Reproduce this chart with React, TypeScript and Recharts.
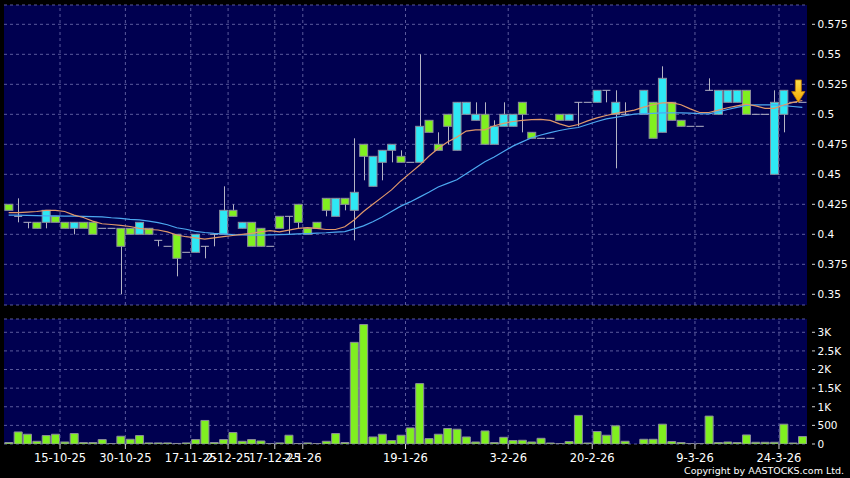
import React from 'react';
import {
  ComposedChart, Bar, Line, XAxis, YAxis, CartesianGrid, ReferenceLine, ReferenceDot,
} from 'recharts';

// daily candles, oldest first (null = no trade that day)
const OPEN = [
  0.425, 0.415, 0.41, 0.41, 0.41, 0.415, 0.41, 0.405, 0.41, 0.41,
  0.405, 0.405, 0.405, 0.405, 0.40, 0.405, 0.395, 0.39, 0.40, 0.385,
  0.385, 0.39, 0.40, 0.40, 0.42, 0.405, 0.41, 0.405, 0.39, 0.415,
  0.415, 0.425, 0.405, 0.41, 0.43, 0.415, 0.43, 0.42, 0.475, 0.44,
  0.46, 0.47, 0.465, 0.46, 0.46, 0.495, 0.475, 0.50, 0.47, 0.50,
  0.495, 0.50, 0.475, 0.49, 0.49, 0.51, 0.485, 0.48, 0.48, 0.50,
  0.495, 0.51, 0.51, 0.51, 0.52, 0.50, 0.50, null, 0.50, 0.51,
  0.485, 0.51, 0.495, 0.49, 0.49, 0.52, 0.50, 0.51, 0.51, 0.52,
  0.50, 0.50, 0.45, 0.50, 0.51, 0.51,
];
const HIGH = [
  0.425, 0.43, 0.41, 0.41, 0.42, 0.415, 0.41, 0.41, 0.41, 0.41,
  0.405, 0.405, 0.405, 0.405, 0.41, 0.405, 0.395, 0.39, 0.40, 0.385,
  0.40, 0.39, 0.40, 0.44, 0.425, 0.41, 0.41, 0.405, 0.39, 0.415,
  0.415, 0.425, 0.405, 0.41, 0.43, 0.43, 0.43, 0.48, 0.475, 0.465,
  0.47, 0.475, 0.47, 0.46, 0.55, 0.495, 0.485, 0.50, 0.51, 0.51,
  0.51, 0.51, 0.495, 0.51, 0.50, 0.51, 0.485, 0.48, 0.48, 0.50,
  0.50, 0.51, 0.51, 0.52, 0.52, 0.52, 0.51, null, 0.52, 0.51,
  0.54, 0.51, 0.495, 0.49, 0.49, 0.53, 0.52, 0.52, 0.52, 0.52,
  0.50, 0.50, 0.52, 0.52, 0.51, 0.51,
];
const LOW = [
  0.42, 0.41, 0.405, 0.405, 0.405, 0.41, 0.405, 0.40, 0.405, 0.40,
  0.405, 0.405, 0.35, 0.40, 0.40, 0.40, 0.39, 0.39, 0.365, 0.385,
  0.385, 0.38, 0.39, 0.40, 0.415, 0.405, 0.39, 0.39, 0.39, 0.405,
  0.40, 0.405, 0.40, 0.405, 0.415, 0.415, 0.42, 0.395, 0.445, 0.44,
  0.445, 0.46, 0.46, 0.46, 0.46, 0.485, 0.47, 0.475, 0.47, 0.50,
  0.495, 0.475, 0.475, 0.49, 0.49, 0.485, 0.48, 0.48, 0.48, 0.495,
  0.495, 0.49, 0.51, 0.51, 0.51, 0.455, 0.50, null, 0.50, 0.48,
  0.485, 0.495, 0.49, 0.49, 0.49, 0.52, 0.50, 0.51, 0.51, 0.50,
  0.50, 0.50, 0.45, 0.485, 0.51, 0.51,
];
const CLOSE = [
  0.42, 0.415, 0.41, 0.405, 0.42, 0.41, 0.405, 0.41, 0.405, 0.40,
  0.405, 0.405, 0.39, 0.40, 0.41, 0.40, 0.395, 0.39, 0.38, 0.385,
  0.40, 0.39, 0.40, 0.42, 0.415, 0.41, 0.39, 0.39, 0.39, 0.405,
  0.415, 0.41, 0.40, 0.405, 0.42, 0.43, 0.425, 0.435, 0.465, 0.465,
  0.47, 0.475, 0.46, 0.46, 0.49, 0.485, 0.47, 0.49, 0.51, 0.51,
  0.50, 0.475, 0.49, 0.50, 0.50, 0.50, 0.48, 0.48, 0.48, 0.495,
  0.50, 0.51, 0.51, 0.52, 0.52, 0.51, 0.50, null, 0.52, 0.48,
  0.53, 0.495, 0.49, 0.49, 0.49, 0.52, 0.52, 0.52, 0.52, 0.50,
  0.50, 0.50, 0.51, 0.52, 0.51, 0.51,
];
// volume in thousands of shares
const VOLUME = [
  40, 324, 262, 73, 227, 262, 54, 281, 38, 38,
  119, 10, 208, 127, 227, 30, 30, 30, 15, 30,
  119, 632, 40, 119, 308, 73, 119, 81, 10, 30,
  235, 10, 30, 10, 73, 281, 40, 2730, 3208, 189,
  262, 92, 235, 433, 1622, 145, 262, 416, 397, 189,
  54, 351, 38, 180, 92, 100, 54, 153, 27, 10,
  65, 768, 27, 335, 235, 487, 73, 0, 127, 127,
  532, 65, 38, 10, 5, 749, 38, 54, 38, 243,
  46, 46, 46, 532, 27, 200,
];
// moving averages as drawn (fast = orange, slow = blue)
const MA_FAST = [
  0.418, 0.418, 0.4185, 0.419, 0.42, 0.42, 0.419, 0.416, 0.414, 0.411,
  0.4088, 0.4082, 0.4075, 0.4065, 0.405, 0.404, 0.4036, 0.402, 0.3994, 0.398,
  0.397, 0.396, 0.397, 0.398, 0.399, 0.40, 0.4008, 0.402, 0.403, 0.402,
  0.4035, 0.405, 0.4055, 0.405, 0.404, 0.404, 0.4063, 0.412, 0.419, 0.425,
  0.431, 0.437, 0.4445, 0.451, 0.4575, 0.465, 0.4715, 0.477, 0.481, 0.486,
  0.487, 0.487, 0.4905, 0.4925, 0.494, 0.495, 0.4955, 0.4958, 0.495, 0.492,
  0.4897, 0.4915, 0.4945, 0.497, 0.499, 0.5008, 0.502, 0.5035, 0.506, 0.508,
  0.5095, 0.5097, 0.508, 0.5045, 0.5015, 0.5015, 0.5035, 0.5055, 0.507, 0.5085,
  0.507, 0.505, 0.505, 0.5078, 0.51, 0.5115,
];
const MA_SLOW = [
  0.416, 0.416, 0.4158, 0.4156, 0.4154, 0.4153, 0.4152, 0.4151, 0.415, 0.4148,
  0.4145, 0.4138, 0.4133, 0.4125, 0.412, 0.411, 0.4098, 0.408, 0.4055, 0.4042,
  0.4025, 0.4015, 0.4008, 0.4003, 0.3998, 0.3995, 0.3994, 0.3994, 0.3995, 0.3997,
  0.40, 0.4003, 0.4006, 0.401, 0.4013, 0.4018, 0.4022, 0.4045, 0.407, 0.4105,
  0.4145, 0.419, 0.4235, 0.427, 0.431, 0.435, 0.4395, 0.4425, 0.4455, 0.4505,
  0.4555, 0.4605, 0.4645, 0.469, 0.4735, 0.477, 0.4805, 0.4828, 0.4847, 0.4865,
  0.488, 0.489, 0.4915, 0.494, 0.4962, 0.4975, 0.4988, 0.5002, 0.5005, 0.5008,
  0.5012, 0.5013, 0.5012, 0.501, 0.5005, 0.5003, 0.502, 0.504, 0.5058, 0.5075,
  0.5078, 0.5078, 0.5078, 0.5072, 0.5065, 0.5058,
];

// date labels and the candle each one starts at
const DATE_LABELS = ['15-10-25', '30-10-25', '17-11-25', '2-12-25', '17-12-25', '2-1-26', '19-1-26', '3-2-26', '20-2-26', '9-3-26', '24-3-26'];
const DATE_START = [6, 13, 20, 24, 29, 32, 43, 54, 63, 74, 83];

const PRICE_TICKS = [0.35, 0.375, 0.4, 0.425, 0.45, 0.475, 0.5, 0.525, 0.55, 0.575];
const VOL_TICKS = [0, 500, 1000, 1500, 2000, 2500, 3000];

const P_MIN = 0.3411;
const P_MAX = 0.5911;
const V_MAX = 3357;

const CYAN = '#2ee8f4';
const GREEN = '#80f020';
const WICK = '#b4b4c4';
const EDGE = '#8c8c9c';
const NAVY = '#000050';
const GRID = '#5a5a9c';
const FONT = '"DejaVu Sans", sans-serif';

const data = OPEN.map((o, i) => ({
  i,
  o,
  h: HIGH[i],
  l: LOW[i],
  c: CLOSE[i],
  v: VOLUME[i],
  maF: MA_FAST[i],
  maS: MA_SLOW[i],
}));

const tickAt = DATE_START.map((s) => s - 0.5);
const labelAt: Record<string, string> = {};
tickAt.forEach((t, k) => { labelAt[String(t)] = DATE_LABELS[k]; });

const fmtPrice = (v: number) => String(Number(v.toFixed(3)));
const fmtVol = (v: number) => (v >= 1000 ? `${v / 1000}K` : String(v));

// bar runs from P_MIN to the high, so its height gives the pixel scale
const Candle = (props: any) => {
  const { x, y, width, height, payload } = props;
  if (payload.h == null || !height) return null;
  const k = height / (payload.h - P_MIN);
  const py = (p: number) => y + (payload.h - p) * k;
  const cx = Math.round(x + width / 2) + 0.5;
  const top = py(Math.max(payload.o, payload.c));
  const bot = py(Math.min(payload.o, payload.c));
  const flat = payload.o === payload.c;
  return (
    <g>
      {payload.h > payload.l && (
        <line x1={cx} x2={cx} y1={py(payload.h)} y2={py(payload.l)} stroke={WICK} />
      )}
      {flat ? (
        <line x1={x} x2={x + width} y1={top} y2={top} stroke={WICK} />
      ) : (
        <rect x={x} y={top} width={width} height={bot - top}
          fill={payload.c > payload.o ? CYAN : GREEN} stroke={EDGE} />
      )}
    </g>
  );
};

const RightTick = ({ x, y, payload, fmt }: any) => (
  <g>
    <line x1={x + 5} x2={x + 8} y1={y} y2={y} stroke="#d0d0d0" />
    <text x={x + 10.5} y={y} dy="0.36em" fill="#ffffff" fontSize={10.5} fontFamily={FONT}>
      {fmt(payload.value)}
    </text>
  </g>
);

const Arrow = ({ cx, cy }: any) => {
  const tx = cx - 4;
  const pts = [
    [tx, cy], [tx - 6.7, cy - 10.7], [tx - 3, cy - 10.7], [tx - 3, cy - 22.4],
    [tx + 3, cy - 22.4], [tx + 3, cy - 10.7], [tx + 6.7, cy - 10.7],
  ].map((p) => p.join(',')).join(' ');
  return (
    <g>
      <defs>
        <linearGradient id="arrowFill" x1="0" y1="0" x2="0" y2="1">
          <stop offset="0%" stopColor="#ffe04a" />
          <stop offset="100%" stopColor="#f2a400" />
        </linearGradient>
      </defs>
      <polygon points={pts} fill="url(#arrowFill)" stroke="#c07a00" strokeWidth={0.8} />
    </g>
  );
};

const W = 850;
const MARGIN_L = 4;
const AXIS_W = 43;

export default function App() {
  return (
    <div style={{ position: 'absolute', left: 0, top: 0, width: W, height: 478, background: '#000000', fontFamily: FONT }}>
      <div style={{ position: 'absolute', left: 0, top: 0 }}>
        <ComposedChart width={W} height={312} data={data} barCategoryGap="9%"
          margin={{ top: 5, right: 0, bottom: 7, left: MARGIN_L }}>
          <CartesianGrid vertical={false} fill={NAVY} stroke={GRID} strokeDasharray="3 3" />
          <XAxis dataKey="i" hide height={0} />
          <XAxis xAxisId="t" type="number" dataKey="i" domain={[-0.5, 85.5]} hide height={0} />
          <YAxis orientation="right" width={AXIS_W} domain={[P_MIN, P_MAX]} allowDataOverflow
            ticks={PRICE_TICKS} interval={0} axisLine={false} tickLine={false} tickSize={0} tickMargin={0}
            tick={<RightTick fmt={fmtPrice} />} />
          {tickAt.map((t) => (
            <ReferenceLine key={t} xAxisId="t" x={t} stroke={GRID} strokeDasharray="3 3" />
          ))}
          <Bar dataKey={(d: any) => (d.h == null ? null : [P_MIN, d.h])} shape={<Candle />} isAnimationActive={false} />
          <Line dataKey="maS" stroke="#4ca8f0" strokeWidth={1.2} dot={false} isAnimationActive={false} />
          <Line dataKey="maF" stroke="#e0986a" strokeWidth={1.2} dot={false} isAnimationActive={false} />
          <ReferenceDot xAxisId="t" x={85} y={CLOSE[85]} shape={<Arrow />} />
        </ComposedChart>
      </div>
      <div style={{ position: 'absolute', left: 0, top: 312 }}>
        <ComposedChart width={W} height={166} data={data} barCategoryGap="9%"
          margin={{ top: 7, right: 0, bottom: 0, left: MARGIN_L }}>
          <CartesianGrid vertical={false} fill={NAVY} stroke={GRID} strokeDasharray="3 3" />
          <XAxis xAxisId="t" type="number" dataKey="i" domain={[-0.5, 85.5]} ticks={tickAt} interval={0}
            height={34} axisLine={false} tickLine={{ stroke: '#d0d0d0' }} tickSize={5} tickMargin={5}
            tickFormatter={(v: number) => labelAt[String(v)] ?? ''}
            tick={{ fill: '#ffffff', fontSize: 11.5, fontFamily: FONT }} />
          <XAxis dataKey="i" hide height={0} />
          <YAxis orientation="right" width={AXIS_W} domain={[0, V_MAX]} allowDataOverflow
            ticks={VOL_TICKS} interval={0} axisLine={false} tickLine={false} tickSize={0} tickMargin={0}
            tick={<RightTick fmt={fmtVol} />} />
          {tickAt.map((t) => (
            <ReferenceLine key={t} xAxisId="t" x={t} stroke={GRID} strokeDasharray="3 3" />
          ))}
          <Bar dataKey="v" fill={GREEN} stroke={EDGE} isAnimationActive={false} />
        </ComposedChart>
      </div>
      <div style={{ position: 'absolute', right: 6, top: 465, color: '#ffffff', fontSize: 9.5, lineHeight: '12px', whiteSpace: 'nowrap' }}>
        Copyright by AASTOCKS.com Ltd.
      </div>
    </div>
  );
}
